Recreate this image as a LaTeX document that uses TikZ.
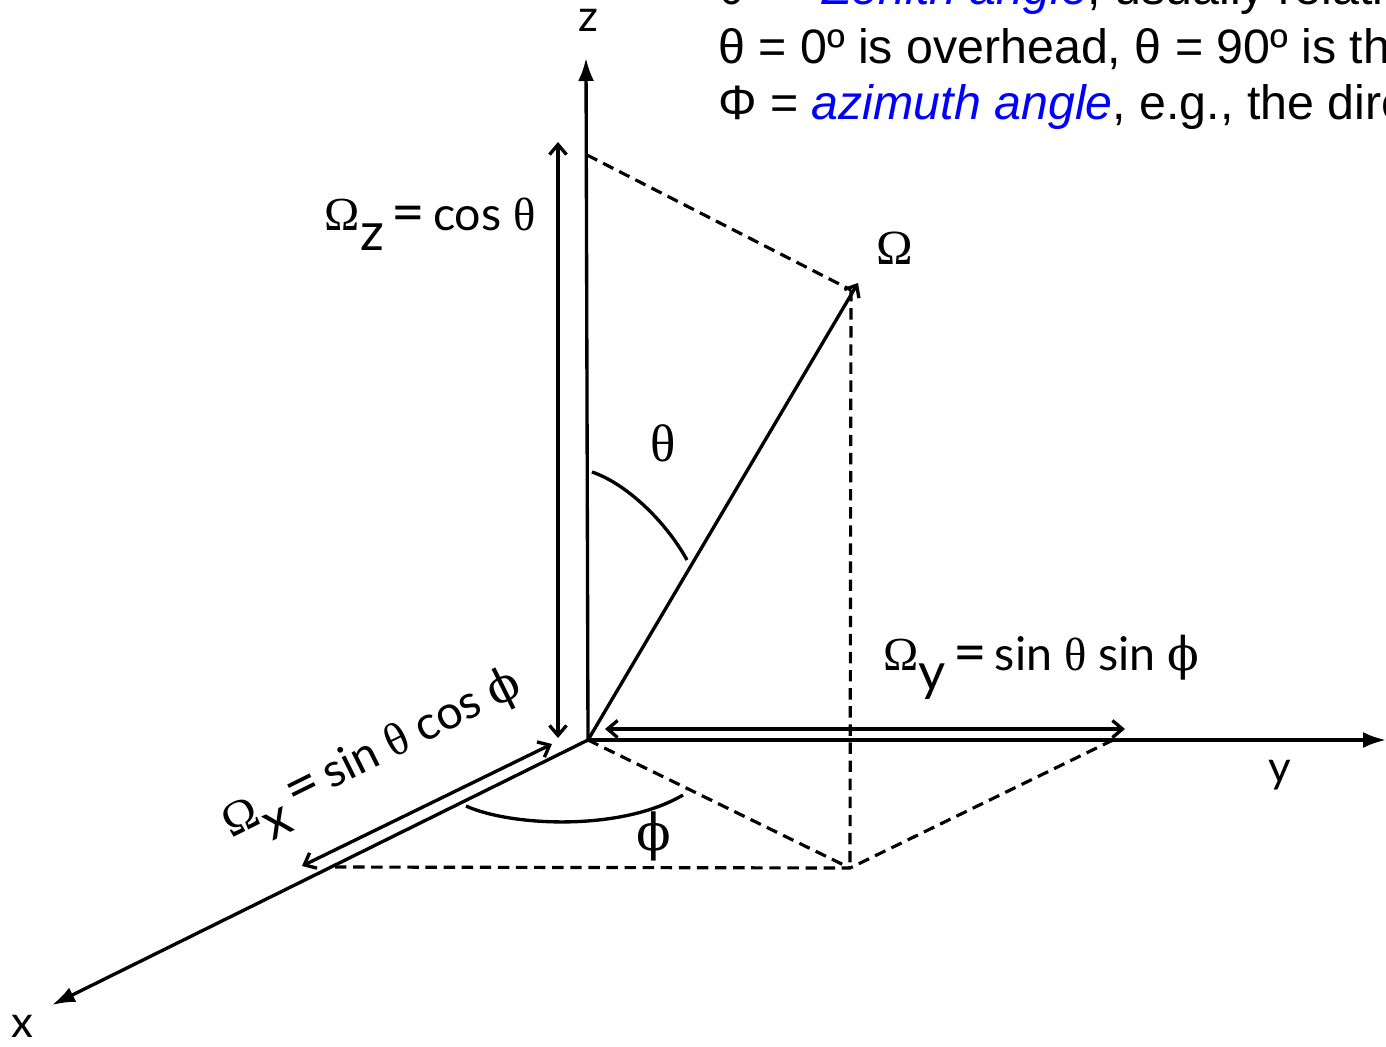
\documentclass[tikz,border=0pt]{standalone}
\usepackage{fontspec}
\setmainfont{Liberation Sans}
\newfontfamily\labfont{Lato}
\newfontfamily\grkfont{Liberation Serif}
\newfontfamily\phifont{DejaVu Serif}
\usepackage{xcolor}
\definecolor{angblue}{HTML}{0000FF}
\usetikzlibrary{arrows.meta,positioning,calc}
\tikzset{
  angaxis/.style={-{Latex[length=4.6mm,width=3.2mm]},line width=1.9pt},
  angvec/.style={-{Straight Barb[length=2mm,width=3.4mm]},line width=1.9pt},
  angdim/.style={{Straight Barb[length=2mm,width=3.4mm]}-{Straight Barb[length=2mm,width=3.4mm]},line width=1.9pt},
  angdash/.style={dash pattern=on 6.5pt off 3.8pt,line width=1.8pt},
  angarc/.style={line width=1.9pt},
  anglabel/.style={font=\labfont\fontsize{26.5}{30}\selectfont,inner sep=0pt},
  angtext/.style={font=\fontsize{27.5}{31.7}\selectfont,anchor=base west,inner sep=0pt},
}
\newcommand\angOm{{\grkfont\fontsize{27}{30}\selectfont Ω}}
\newcommand\angTh{{\grkfont θ}}
\newcommand\angPh{{\phifont ϕ}}
\newcommand\angEq{\,\raisebox{-1.5pt}{\fontsize{33}{33}\selectfont =}\,}
\newcommand\angsub[1]{\raisebox{-0.45em}{\fontsize{30}{30}\selectfont #1}}

\begin{document}
\begin{tikzpicture}[x=0.02cm,y=-0.02cm]
\useasboundingbox (0,0) rectangle (1386,1046);
\clip (0,0) rectangle (1386,1046);
 % frame of the axes
\coordinate (o) at (588,740);
\coordinate (ztip) at (586,58);
\coordinate (ytip) at (1386,740);
\coordinate (xtip) at (52,1005);
\coordinate (om) at (858,283);
\coordinate (omtop) at (851,290);
\coordinate (zc) at (587,155);
\coordinate (base) at (850,868);
\coordinate (yc) at (1113,740);
\coordinate (xc) at (335,867);
\draw[angaxis] (o) -- (ztip);
\draw[angaxis] (o) -- (ytip);
\draw[angaxis] (o) -- (xtip);
\draw[angvec] (o) -- (om);
 % projections
\draw[angdash] (zc) -- (omtop);
\draw[angdash] (omtop) -- (base);
\draw[angdash] (o) -- (base);
\draw[angdash] (xc) -- (base) -- (yc);
 % components
\draw[angdim] (558,738) -- (558,142);
\draw[angdim] (302,866) -- (552,744);
\draw[angdim] (605,729) -- (1125,729);
 % angles
\draw[angarc] (592,472) .. controls (625,483) and (665,520) .. (687,560);
\draw[angarc] (466,806) .. controls (510,826) and (620,832) .. (683,795);
\node[anglabel] (thlab) at (663,443) {\fontsize{30}{30}\selectfont\angTh};
\node[anglabel] (phlab) at (654,836) {\fontsize{29}{30}\selectfont\angPh};
\node[anglabel] (omlab) at (895,248) {\fontsize{28}{30}\selectfont\grkfont Ω};
\node[anglabel,font=\labfont\fontsize{25}{25}\selectfont] (zlab) at (588,20) {z};
\node[anglabel,font=\labfont\fontsize{25}{25}\selectfont] (ylab) at (1280,775) {y};
\node[anglabel,font=\labfont\fontsize{25}{25}\selectfont] (xlab) at (22,1026) {x};
\node[anglabel,anchor=base east] (zcomp) at (536,230) {\angOm\angsub{z}\angEq cos \angTh};
\node[anglabel,anchor=base west] (ycomp) at (883,670) {\angOm\angsub{y}\angEq sin \angTh\ sin \angPh};
\node[anglabel,anchor=base,rotate=26.4] (xcomp) at (378,766) {\angOm\angsub{x}\angEq sin \angTh\ cos \angPh};
 % definitions, cut off at the top
\node[angtext] (def1) at (718,4) {θ\hspace{0.45em} = \textcolor{angblue}{\itshape Zenith angle}, usually relative};
\node[angtext] (def2) at (718,63) {θ = 0º is overhead, θ = 90º is the};
\node[angtext] (def3) at (718,119) {Φ = \textcolor{angblue}{\itshape azimuth angle}, e.g., the direc};
\end{tikzpicture}
\end{document}
